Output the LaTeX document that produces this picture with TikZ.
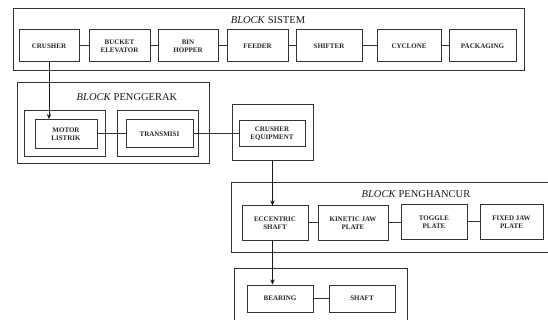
\documentclass[tikz,border=0pt]{standalone}
\usepackage{fontspec}
\setmainfont{Liberation Serif}
\usetikzlibrary{arrows.meta}

\begin{document}
\begin{tikzpicture}[x=1pt, y=-1pt, line width=1pt,
    blok/.style={draw=black!80, rectangle, inner sep=0pt, align=center,
        font=\bfseries\fontsize{7}{8}\selectfont, text=black!85},
    frame/.style={draw=black!80, rectangle, inner sep=0pt},
    judul/.style={font=\fontsize{10.5}{12}\selectfont, text=black!90},
    link/.style={draw=black!80},
    panah/.style={draw=black!90, -{Stealth[length=5pt, width=4.5pt]}}]
        \useasboundingbox (0,0) rectangle (548,320);
        \clip (0,0) rectangle (548,320);

        % Block Sistem
        \node[frame, minimum width=511pt, minimum height=62pt] (sistem) at (268.5,40) {};
        \node[judul] (tsistem) at (268,20) {\textit{BLOCK} SISTEM};
        \node[blok, minimum width=60pt, minimum height=32pt] (crusher) at (49,46) {CRUSHER};
        \node[blok, minimum width=61pt, minimum height=32pt] (bucket) at (119.5,46) {BUCKET\\ELEVATOR};
        \node[blok, minimum width=60pt, minimum height=32pt] (bin) at (188,46) {BIN\\HOPPER};
        \node[blok, minimum width=61pt, minimum height=32pt] (feeder) at (257.5,46) {FEEDER};
        \node[blok, minimum width=66pt, minimum height=32pt] (shifter) at (329,46) {SHIFTER};
        \node[blok, minimum width=64pt, minimum height=32pt] (cyclone) at (409,46) {CYCLONE};
        \node[blok, minimum width=67pt, minimum height=32pt] (packaging) at (482.5,46) {PACKAGING};

        % Block Penggerak
        \node[frame, minimum width=192pt, minimum height=81pt] (penggerak) at (113,123.5) {};
        \node[judul] (tpenggerak) at (127,97) {\textit{BLOCK} PENGGERAK};
        \node[frame, minimum width=81pt, minimum height=46pt] (gmotor) at (64.5,134) {};
        \node[frame, minimum width=81pt, minimum height=46pt] (gtrans) at (157.5,134) {};
        \node[blok, minimum width=62pt, minimum height=29pt] (motor) at (66,134) {MOTOR\\LISTRIK};
        \node[blok, minimum width=67pt, minimum height=28pt] (trans) at (159.5,134) {TRANSMISI};

        % Crusher Equipment
        \node[frame, minimum width=81pt, minimum height=56pt] (gequip) at (272.5,133) {};
        \node[blok, minimum width=66pt, minimum height=26pt] (equip) at (272,134) {CRUSHER\\EQUIPMENT};

        % Block Penghancur
        \node[frame, minimum width=330pt, minimum height=69pt] (penghancur) at (396,217.5) {};
        \node[judul] (tpenghancur) at (416,194) {\textit{BLOCK} PENGHANCUR};
        \node[blok, minimum width=66pt, minimum height=34pt] (eccentric) at (275,223) {ECCENTRIC\\SHAFT};
        \node[blok, minimum width=70pt, minimum height=34pt] (kinetic) at (353,223) {KINETIC JAW\\PLATE};
        \node[blok, minimum width=66pt, minimum height=34pt] (toggle) at (434,222) {TOGGLE\\PLATE};
        \node[blok, minimum width=63pt, minimum height=34pt] (fixed) at (511.5,222) {FIXED JAW\\PLATE};

        % Bearing
        \node[frame, minimum width=173pt, minimum height=70pt] (gbearing) at (320.5,303) {};
        \node[blok, minimum width=66pt, minimum height=27pt] (bearing) at (280,298.5) {BEARING};
        \node[blok, minimum width=66pt, minimum height=27pt] (shaft) at (362,298.5) {SHAFT};

        % Connectors
        \draw[link] (crusher) -- (bucket);
        \draw[link] (bucket) -- (bin);
        \draw[link] (bin) -- (feeder);
        \draw[link] (feeder) -- (shifter);
        \draw[link] (shifter) -- (cyclone);
        \draw[link] (cyclone) -- (packaging);
        \draw[link] (motor) -- (trans);
        \draw[link] (trans) -- (equip);
        \draw[link] (eccentric) -- (kinetic);
        \draw[link] (kinetic.east) -- (toggle.west |- kinetic.east);
        \draw[link] (toggle) -- (fixed);
        \draw[link] (bearing) -- (shaft);

        % Arrows
        \draw[panah] (crusher.south) -- (crusher.south |- motor.north);
        \draw[panah] (gequip.south) -- (gequip.south |- eccentric.north);
        \draw[panah] (eccentric.south -| gequip.south) -- (gequip.south |- bearing.north);
\end{tikzpicture}
\end{document}
